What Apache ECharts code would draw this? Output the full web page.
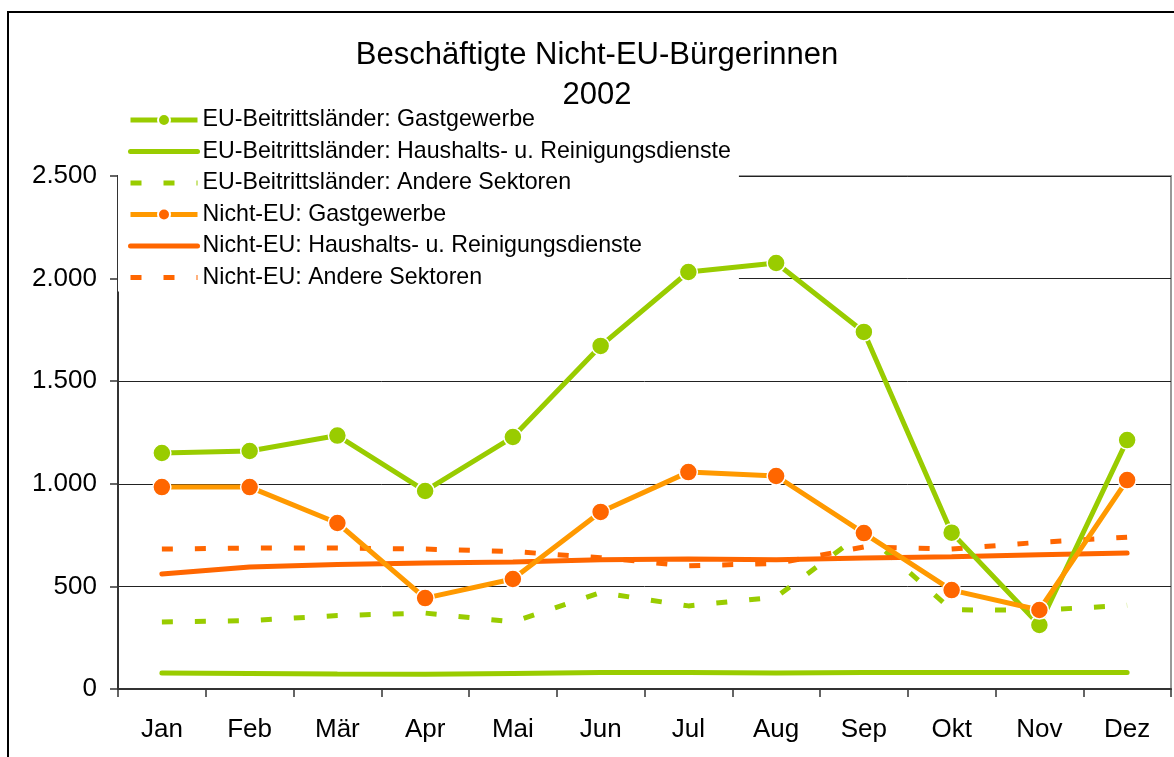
<!DOCTYPE html>
<html>
<head>
<meta charset="utf-8">
<script src="https://cdn.jsdelivr.net/npm/echarts@6/dist/echarts.min.js"></script>
<style>
    html, body { margin: 0; padding: 0; background: #fff; }
    #chart { width: 1174px; height: 757px; }
</style>
</head>
<body>
<div id="chart"></div>
<script>
// Monate
var months = ['Jan', 'Feb', 'Mär', 'Apr', 'Mai', 'Jun', 'Jul', 'Aug', 'Sep', 'Okt', 'Nov', 'Dez'];
// EU-Beitrittsländer
var euGast = [1150, 1160, 1235, 965, 1228, 1672, 2032, 2076, 1740, 762, 312, 1213];
var euHaus = [78, 76, 73, 72, 76, 80, 80, 78, 80, 80, 80, 80];
var euAndere = [327, 333, 358, 370, 327, 470, 405, 448, 765, 386, 384, 408];
// Nicht-EU
var nonGast = [984, 984, 809, 443, 536, 863, 1057, 1038, 760, 482, 385, 1018];
var nonHaus = [560, 595, 607, 614, 619, 630, 634, 630, 638, 645, 654, 663];
var nonAndere = [682, 687, 687, 682, 670, 640, 600, 612, 692, 682, 715, 740];
var yTicks = [0, 500, 1000, 1500, 2000, 2500];

var GREEN = '#99CC00';
var ORANGE = '#FF9900';
var DARK_ORANGE = '#FF6600';
var FONT = '"Liberation Sans", Arial, sans-serif';

// Tausenderpunkt
function fmt(v) {
    return String(v).replace(/\B(?=(\d{3})+(?!\d))/g, '.');
}

function markerSeries(name, data, lineColor, dotColor) {
    return {
        name: name,
        type: 'line',
        data: data,
        symbol: 'circle',
        symbolSize: 18,
        lineStyle: { color: lineColor, width: 5 },
        itemStyle: { color: dotColor, borderColor: '#fff', borderWidth: 1.5 },
        z: 7
    };
}

function plainSeries(name, data, color, dashed) {
    return {
        name: name,
        type: 'line',
        data: data,
        symbol: 'none',
        lineStyle: {
            color: color,
            width: 5,
            type: dashed ? [11, 22] : 'solid',
            cap: dashed ? 'butt' : 'round'
        },
        itemStyle: { color: color },
        z: 6
    };
}

// Legendeneintrag: ohne Punkt, wenn die Reihe keine Marker hat
function legendItem(name, withDot) {
    var item = { name: name };
    if (!withDot) {
        item.itemStyle = { opacity: 0 };
    }
    return item;
}

var chart = echarts.init(document.getElementById('chart'));
chart.setOption({
    backgroundColor: '#fff',
    animation: false,
    textStyle: { fontFamily: FONT },
    title: {
        text: 'Beschäftigte Nicht-EU-Bürgerinnen\n2002',
        left: 597,
        top: 35,
        padding: 0,
        textAlign: 'center',
        textStyle: { fontSize: 31, fontWeight: 'normal', color: '#000', lineHeight: 40, fontFamily: FONT }
    },
    legend: {
        orient: 'vertical',
        left: 118,
        top: 106,
        padding: [0, 8, 0, 10],
        itemWidth: 67,
        itemHeight: 15,
        itemGap: 3.5,
        backgroundColor: '#fff',
        z: 4,
        lineStyle: { width: 'inherit' },
        textStyle: { fontSize: 23.2, color: '#000', lineHeight: 28, fontFamily: FONT },
        data: [
            legendItem('EU-Beitrittsländer: Gastgewerbe', true),
            legendItem('EU-Beitrittsländer: Haushalts- u. Reinigungsdienste', false),
            legendItem('EU-Beitrittsländer: Andere Sektoren', false),
            legendItem('Nicht-EU: Gastgewerbe', true),
            legendItem('Nicht-EU: Haushalts- u. Reinigungsdienste', false),
            legendItem('Nicht-EU: Andere Sektoren', false)
        ]
    },
    grid: {
        left: 118,
        right: 3,
        top: 176,
        bottom: 68,
        show: true,
        borderColor: '#999',
        borderWidth: 2,
        backgroundColor: 'transparent'
    },
    xAxis: {
        type: 'category',
        data: months,
        boundaryGap: true,
        axisLine: { lineStyle: { color: '#333', width: 2 } },
        axisTick: { show: true, length: 8, lineStyle: { color: '#333', width: 1.5 } },
        axisLabel: { fontSize: 26, color: '#000', margin: 28, fontFamily: FONT },
        splitLine: { show: false }
    },
    yAxis: {
        type: 'value',
        min: yTicks[0],
        max: yTicks[yTicks.length - 1],
        interval: 500,
        axisLine: { show: true, lineStyle: { color: '#333', width: 2 } },
        axisTick: { show: true, length: 8, lineStyle: { color: '#333', width: 1.5 } },
        axisLabel: { fontSize: 26, color: '#000', margin: 21, fontFamily: FONT, formatter: fmt },
        splitLine: { show: true, lineStyle: { color: '#222', width: 1 } }
    },
    graphic: [{
        type: 'rect',
        shape: { x: 8, y: 12, width: 1300, height: 900 },
        style: { fill: null, stroke: '#000', lineWidth: 2 },
        silent: true,
        z: 100
    }],
    series: [
        markerSeries('EU-Beitrittsländer: Gastgewerbe', euGast, GREEN, GREEN),
        plainSeries('EU-Beitrittsländer: Haushalts- u. Reinigungsdienste', euHaus, GREEN, false),
        plainSeries('EU-Beitrittsländer: Andere Sektoren', euAndere, GREEN, true),
        markerSeries('Nicht-EU: Gastgewerbe', nonGast, ORANGE, DARK_ORANGE),
        plainSeries('Nicht-EU: Haushalts- u. Reinigungsdienste', nonHaus, DARK_ORANGE, false),
        plainSeries('Nicht-EU: Andere Sektoren', nonAndere, DARK_ORANGE, true)
    ]
});
</script>
</body>
</html>
